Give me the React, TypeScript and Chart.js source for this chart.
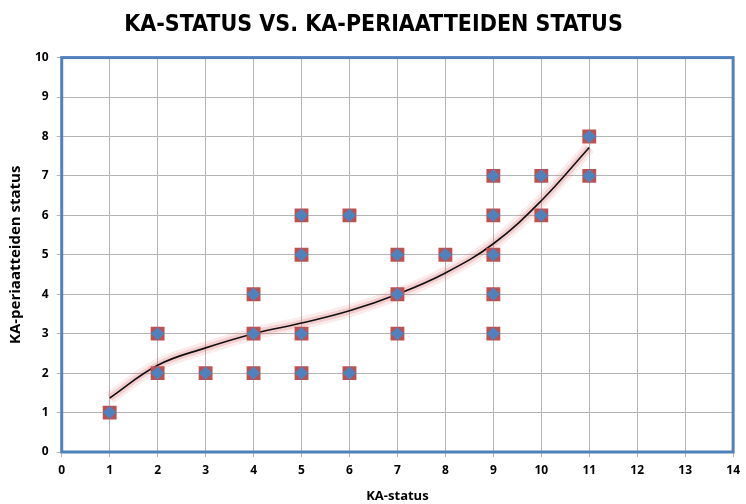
import React, { useEffect, useRef } from "react";
import { Chart, registerables } from "chart.js";

Chart.register(...registerables);

const xValues = [1, 2, 2, 3, 4, 4, 4, 5, 5, 5, 5, 6, 6, 7, 7, 7, 8, 9, 9, 9, 9, 9, 10, 10, 11, 11];
const yValues = [1, 2, 3, 2, 2, 3, 4, 2, 3, 5, 6, 2, 6, 3, 4, 5, 5, 3, 4, 5, 6, 7, 6, 7, 7, 8];

const trendX = [1, 2, 3, 4, 5, 6, 7, 8, 9, 10, 11];
const trendY = [1.37, 2.2, 2.64, 3.0, 3.27, 3.58, 4.0, 4.54, 5.28, 6.37, 7.72];

const titleText = "KA-STATUS VS. KA-PERIAATTEIDEN STATUS";
const xTitle = "KA-status";
const yTitle = "KA-periaatteiden status";

const borderPlugin = {
  id: "plotBorder",
  afterDatasetsDraw(chart: any) {
    const { ctx, chartArea } = chart;
    ctx.save();
    ctx.strokeStyle = "#4F81BD";
    ctx.lineWidth = 3;
    ctx.strokeRect(chartArea.left, chartArea.top, chartArea.right - chartArea.left, chartArea.bottom - chartArea.top);
    ctx.restore();
  },
};

export default function App() {
  const ref = useRef<HTMLCanvasElement>(null);
  useEffect(() => {
    if (!ref.current) return;
    const points = xValues.map((x, i) => ({ x, y: yValues[i] }));
    const trend = trendX.map((x, i) => ({ x, y: trendY[i] }));
    const tickFont = { family: "'Open Sans', sans-serif", size: 12, weight: "bold" as const };
    const chart = new Chart(ref.current, {
      type: "scatter",
      data: {
        datasets: [
          {
            type: "line",
            data: trend,
            borderColor: "rgba(225,120,120,0.14)",
            borderWidth: 13,
            pointRadius: 0,
            tension: 0.4,
            fill: false,
            order: 6,
          } as any,
          {
            type: "line",
            data: trend,
            borderColor: "rgba(225,120,120,0.25)",
            borderWidth: 7,
            pointRadius: 0,
            tension: 0.4,
            fill: false,
            order: 5,
          } as any,
          {
            type: "line",
            data: trend,
            borderColor: "#111111",
            borderWidth: 1.6,
            pointRadius: 0,
            tension: 0.4,
            fill: false,
            order: 3,
          } as any,
          {
            data: points,
            pointStyle: "rect",
            pointRadius: 9.8,
            backgroundColor: "#C0504D",
            borderColor: "#C0504D",
            borderWidth: 0,
            order: 2,
          },
          {
            data: points,
            pointStyle: "rectRot",
            pointRadius: 6.8,
            backgroundColor: "#4F81BD",
            borderColor: "#4F81BD",
            borderWidth: 0,
            order: 1,
          },
        ],
      },
      options: {
        animation: false,
        responsive: true,
        maintainAspectRatio: false,
        layout: { padding: { left: 7, right: 6, top: 4, bottom: 0 } },
        plugins: {
          legend: { display: false },
          tooltip: { enabled: false },
          title: {
            display: true,
            text: titleText,
            color: "#000000",
            font: { family: "'DejaVu Sans Condensed', 'Liberation Sans Narrow', 'Open Sans', sans-serif", size: 23, weight: "bold" },
            padding: { top: 7, bottom: 19 },
          },
        },
        scales: {
          x: {
            type: "linear",
            min: 0,
            max: 14,
            ticks: { stepSize: 1, color: "#000000", font: tickFont, padding: 6 },
            grid: { color: "#B4B4B4", lineWidth: 1, tickLength: 5 },
            border: { display: false },
            title: {
              display: true,
              text: xTitle,
              color: "#000000",
              font: { family: "'Open Sans', sans-serif", size: 13, weight: "bold" },
              padding: { top: 5, bottom: 0 },
            },
          },
          y: {
            type: "linear",
            min: 0,
            max: 10,
            ticks: { stepSize: 1, color: "#000000", font: tickFont, padding: 8 },
            grid: { color: "#B4B4B4", lineWidth: 1, tickLength: 5 },
            border: { display: false },
            title: {
              display: true,
              text: yTitle,
              color: "#000000",
              font: { family: "'Open Sans', sans-serif", size: 15, weight: "bold" },
              padding: { top: 0, bottom: 2 },
            },
          },
        },
      },
      plugins: [borderPlugin],
    });
    return () => chart.destroy();
  }, []);
  return (
    <div style={{ position: "fixed", left: 0, top: 0, width: 746, height: 504, background: "#fff" }}>
      <canvas ref={ref} />
    </div>
  );
}
